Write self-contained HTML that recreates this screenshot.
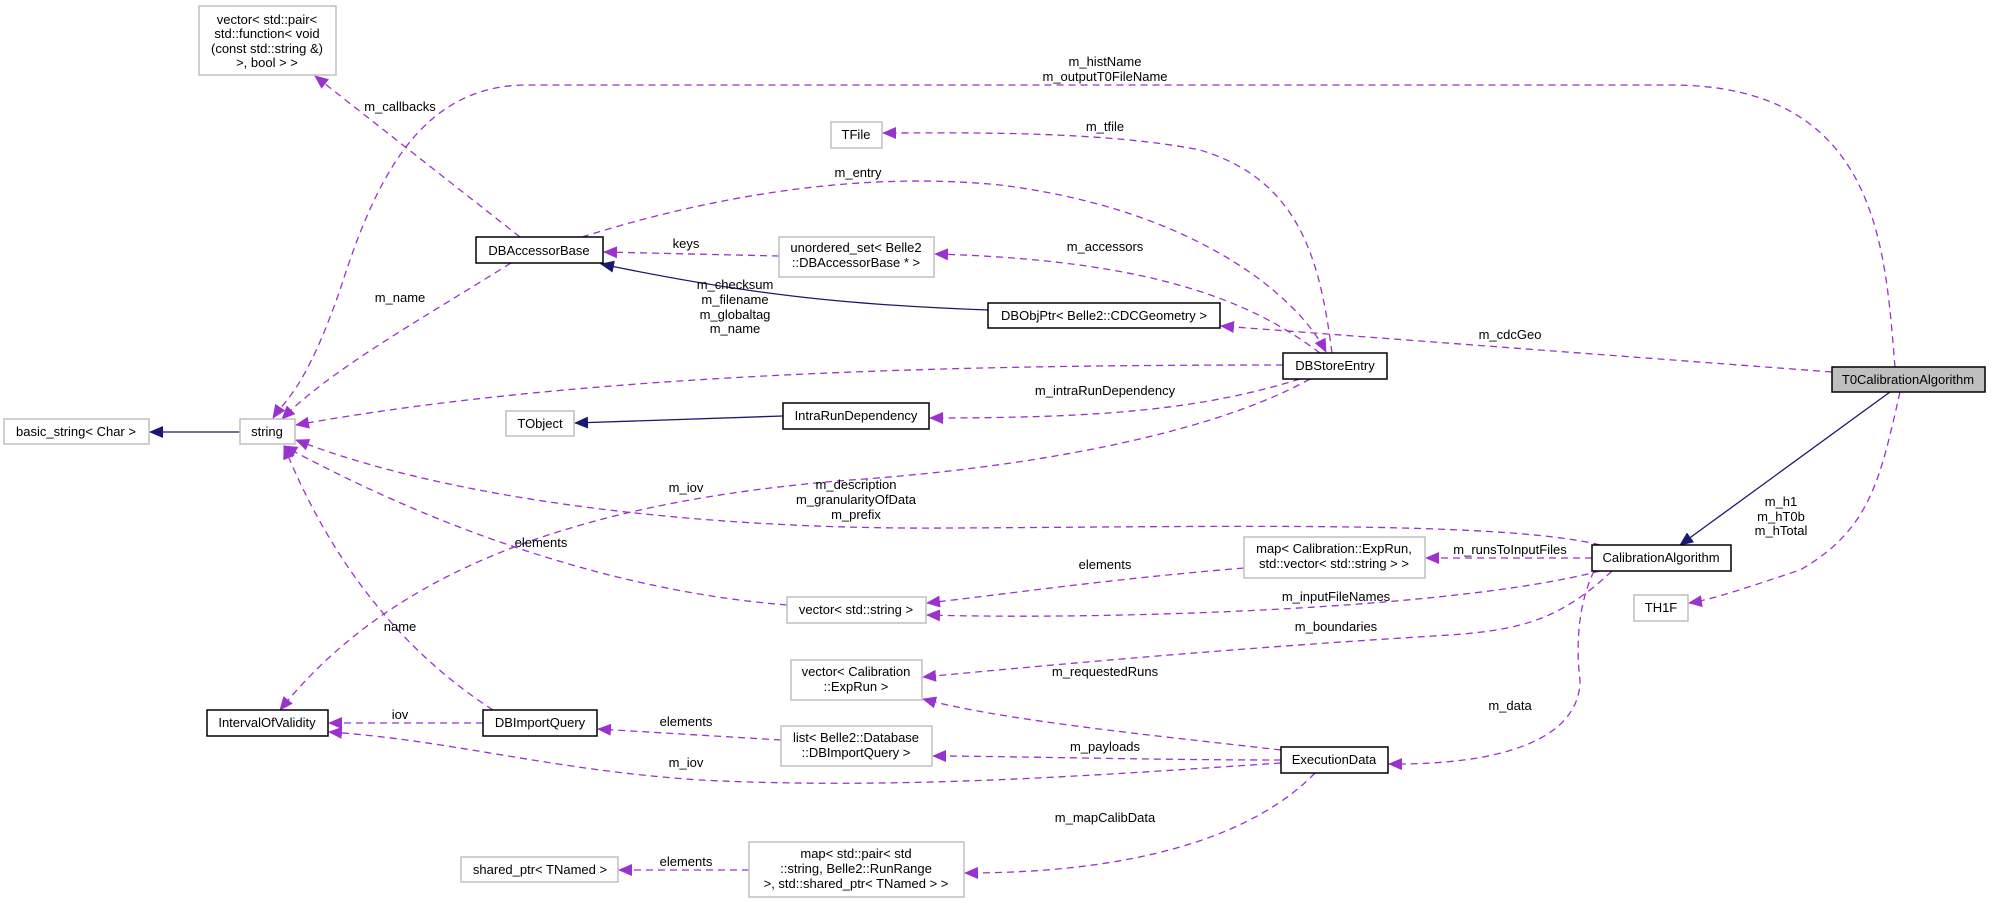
<!DOCTYPE html>
<html><head><meta charset="utf-8"><style>
html,body{margin:0;padding:0;background:#fff;}
svg{display:block;}
text{font-family:"Liberation Sans",sans-serif;font-size:13px;fill:#000;}
.e{fill:none;stroke:#9a32cd;stroke-width:1.3;stroke-dasharray:7,5;}
.i{fill:none;stroke:#191970;stroke-width:1.3;}
.g{fill:#fff;stroke:#bfbfbf;stroke-width:1.5;}
.b{fill:#fff;stroke:#000;stroke-width:1.5;}
</style></head><body>
<svg width="1991" height="903" viewBox="0 0 1991 903" xmlns="http://www.w3.org/2000/svg">
<defs>
<marker id="p" markerUnits="userSpaceOnUse" markerWidth="14" markerHeight="12" refX="13" refY="6" orient="auto"><path d="M0,0 L14,6 L0,12 z" fill="#9a32cd"/></marker>
<marker id="n" markerUnits="userSpaceOnUse" markerWidth="14" markerHeight="12" refX="13" refY="6" orient="auto"><path d="M0,0 L14,6 L0,12 z" fill="#191970"/></marker>
</defs>

<!-- edges -->
<path class="e" marker-end="url(#p)" d="M1895,367 C1885,250 1880,85 1671,85 L527,85 C420,85 375,180 340,290 C305,390 285,400 273,418"/>
<path class="e" marker-end="url(#p)" d="M520,237 L315,76"/>
<path class="e" marker-end="url(#p)" d="M511,263 C420,320 330,370 282,419"/>
<path class="e" marker-end="url(#p)" d="M582,237 C700,200 850,170 1000,185 C1200,210 1300,300 1326,352"/>
<path class="e" marker-end="url(#p)" d="M1332,353 C1320,260 1300,180 1200,150 C1100,130 950,133 883,133"/>
<path class="e" marker-end="url(#p)" d="M1320,353 C1250,300 1150,260 935,254"/>
<path class="e" marker-end="url(#p)" d="M779,256 L604,252"/>
<path class="i" marker-end="url(#n)" d="M988,310 C850,305 750,295 601,264"/>
<path class="e" marker-end="url(#p)" d="M1832,372 L1221,326"/>
<path class="e" marker-end="url(#p)" d="M1283,365 C1000,365 600,370 296,425"/>
<path class="e" marker-end="url(#p)" d="M1300,379 C1200,410 1100,418 930,418"/>
<path class="i" marker-end="url(#n)" d="M783,416 L575,423"/>
<path class="e" marker-end="url(#p)" d="M1310,379 C1200,440 1000,470 850,480 C600,500 400,560 280,710"/>
<path class="i" marker-end="url(#n)" d="M240,432 L150,432"/>
<path class="e" marker-end="url(#p)" d="M1600,545 C1500,520 1200,527 950,528 C700,530 450,500 296,440"/>
<path class="e" marker-end="url(#p)" d="M1592,558 L1426,558"/>
<path class="e" marker-end="url(#p)" d="M1244,568 C1100,580 1000,595 927,603"/>
<path class="e" marker-end="url(#p)" d="M787,605 C600,590 420,520 284,446"/>
<path class="e" marker-end="url(#p)" d="M1600,571 C1450,610 1100,620 927,615"/>
<path class="e" marker-end="url(#p)" d="M1612,571 C1560,620 1520,630 1450,635 C1200,650 1000,670 923,677"/>
<path class="e" marker-end="url(#p)" d="M1594,571 C1580,600 1575,640 1580,680 C1580,740 1500,765 1389,764"/>
<path class="e" marker-end="url(#p)" d="M1900,392 C1880,480 1870,530 1800,570 C1740,590 1710,600 1689,603"/>
<path class="i" marker-end="url(#n)" d="M1890,392 L1680,545"/>
<path class="e" marker-end="url(#p)" d="M1281,750 C1150,735 1000,720 923,699"/>
<path class="e" marker-end="url(#p)" d="M1281,760 C1150,760 1000,756 933,756"/>
<path class="e" marker-end="url(#p)" d="M781,740 L598,729"/>
<path class="e" marker-end="url(#p)" d="M483,723 L329,723"/>
<path class="e" marker-end="url(#p)" d="M493,710 C400,650 330,560 284,446"/>
<path class="e" marker-end="url(#p)" d="M1281,763 C1100,775 900,790 700,780 C550,770 450,740 329,732"/>
<path class="e" marker-end="url(#p)" d="M1315,773 C1260,830 1150,873 965,873"/>
<path class="e" marker-end="url(#p)" d="M749,870 L619,870"/>

<!-- nodes -->
<rect class="g" x="199" y="6" width="137" height="69"/>
<text x="267" y="24" text-anchor="middle">vector&lt; std::pair&lt;</text>
<text x="267" y="38" text-anchor="middle">std::function&lt; void</text>
<text x="267" y="53" text-anchor="middle">(const std::string &amp;)</text>
<text x="267" y="67" text-anchor="middle">&gt;, bool &gt; &gt;</text>

<rect class="b" x="476" y="237" width="127" height="26"/>
<text x="539" y="255" text-anchor="middle">DBAccessorBase</text>

<rect class="g" x="4" y="419" width="145" height="25"/>
<text x="76" y="436" text-anchor="middle">basic_string&lt; Char &gt;</text>
<rect class="g" x="240" y="419" width="55" height="25"/>
<text x="267" y="436" text-anchor="middle">string</text>
<rect class="g" x="506" y="411" width="68" height="25"/>
<text x="540" y="428" text-anchor="middle">TObject</text>

<rect class="g" x="831" y="122" width="51" height="26"/>
<text x="856" y="139" text-anchor="middle">TFile</text>

<rect class="g" x="779" y="237" width="155" height="40"/>
<text x="856" y="252" text-anchor="middle">unordered_set&lt; Belle2</text>
<text x="856" y="267" text-anchor="middle">::DBAccessorBase * &gt;</text>

<rect class="b" x="988" y="303" width="232" height="25"/>
<text x="1104" y="320" text-anchor="middle">DBObjPtr&lt; Belle2::CDCGeometry &gt;</text>

<rect class="b" x="1283" y="353" width="104" height="26"/>
<text x="1335" y="370" text-anchor="middle">DBStoreEntry</text>

<rect class="b" x="783" y="403" width="146" height="26"/>
<text x="856" y="420" text-anchor="middle">IntraRunDependency</text>

<rect x="1832" y="367" width="153" height="25" fill="#bfbfbf" stroke="#000" stroke-width="1.5"/>
<text x="1908" y="384" text-anchor="middle">T0CalibrationAlgorithm</text>

<rect class="b" x="1592" y="545" width="139" height="26"/>
<text x="1661" y="562" text-anchor="middle">CalibrationAlgorithm</text>

<rect class="g" x="1244" y="537" width="181" height="41"/>
<text x="1334" y="553" text-anchor="middle">map&lt; Calibration::ExpRun,</text>
<text x="1334" y="568" text-anchor="middle">std::vector&lt; std::string &gt; &gt;</text>

<rect class="g" x="1634" y="595" width="54" height="26"/>
<text x="1661" y="612" text-anchor="middle">TH1F</text>

<rect class="b" x="1281" y="747" width="107" height="26"/>
<text x="1334" y="764" text-anchor="middle">ExecutionData</text>

<rect class="b" x="207" y="710" width="121" height="26"/>
<text x="267" y="727" text-anchor="middle">IntervalOfValidity</text>

<rect class="b" x="483" y="710" width="114" height="26"/>
<text x="540" y="727" text-anchor="middle">DBImportQuery</text>

<rect class="g" x="787" y="597" width="139" height="26"/>
<text x="856" y="614" text-anchor="middle">vector&lt; std::string &gt;</text>

<rect class="g" x="791" y="660" width="131" height="40"/>
<text x="856" y="676" text-anchor="middle">vector&lt; Calibration</text>
<text x="856" y="691" text-anchor="middle">::ExpRun &gt;</text>

<rect class="g" x="781" y="726" width="151" height="40"/>
<text x="856" y="742" text-anchor="middle">list&lt; Belle2::Database</text>
<text x="856" y="757" text-anchor="middle">::DBImportQuery &gt;</text>

<rect class="g" x="461" y="857" width="157" height="25"/>
<text x="540" y="874" text-anchor="middle">shared_ptr&lt; TNamed &gt;</text>

<rect class="g" x="749" y="842" width="215" height="55"/>
<text x="856" y="858" text-anchor="middle">map&lt; std::pair&lt; std</text>
<text x="856" y="873" text-anchor="middle">::string, Belle2::RunRange</text>
<text x="856" y="888" text-anchor="middle">&gt;, std::shared_ptr&lt; TNamed &gt; &gt;</text>

<!-- labels -->
<g text-anchor="middle">
<text x="1105" y="66">m_histName</text>
<text x="1105" y="81">m_outputT0FileName</text>
<text x="400" y="111">m_callbacks</text>
<text x="1105" y="131">m_tfile</text>
<text x="858" y="177">m_entry</text>
<text x="1105" y="251">m_accessors</text>
<text x="686" y="248">keys</text>
<text x="400" y="302">m_name</text>
<text x="735" y="289">m_checksum</text>
<text x="735" y="304">m_filename</text>
<text x="735" y="319">m_globaltag</text>
<text x="735" y="333">m_name</text>
<text x="1510" y="339">m_cdcGeo</text>
<text x="1105" y="395">m_intraRunDependency</text>
<text x="686" y="492">m_iov</text>
<text x="856" y="489">m_description</text>
<text x="856" y="504">m_granularityOfData</text>
<text x="856" y="519">m_prefix</text>
<text x="1781" y="506">m_h1</text>
<text x="1781" y="521">m_hT0b</text>
<text x="1781" y="535">m_hTotal</text>
<text x="541" y="547">elements</text>
<text x="1105" y="569">elements</text>
<text x="1510" y="554">m_runsToInputFiles</text>
<text x="1336" y="601">m_inputFileNames</text>
<text x="1336" y="631">m_boundaries</text>
<text x="400" y="631">name</text>
<text x="1105" y="676">m_requestedRuns</text>
<text x="1510" y="710">m_data</text>
<text x="400" y="719">iov</text>
<text x="686" y="726">elements</text>
<text x="1105" y="751">m_payloads</text>
<text x="686" y="767">m_iov</text>
<text x="1105" y="822">m_mapCalibData</text>
<text x="686" y="866">elements</text>
</g>
</svg>
</body></html>
